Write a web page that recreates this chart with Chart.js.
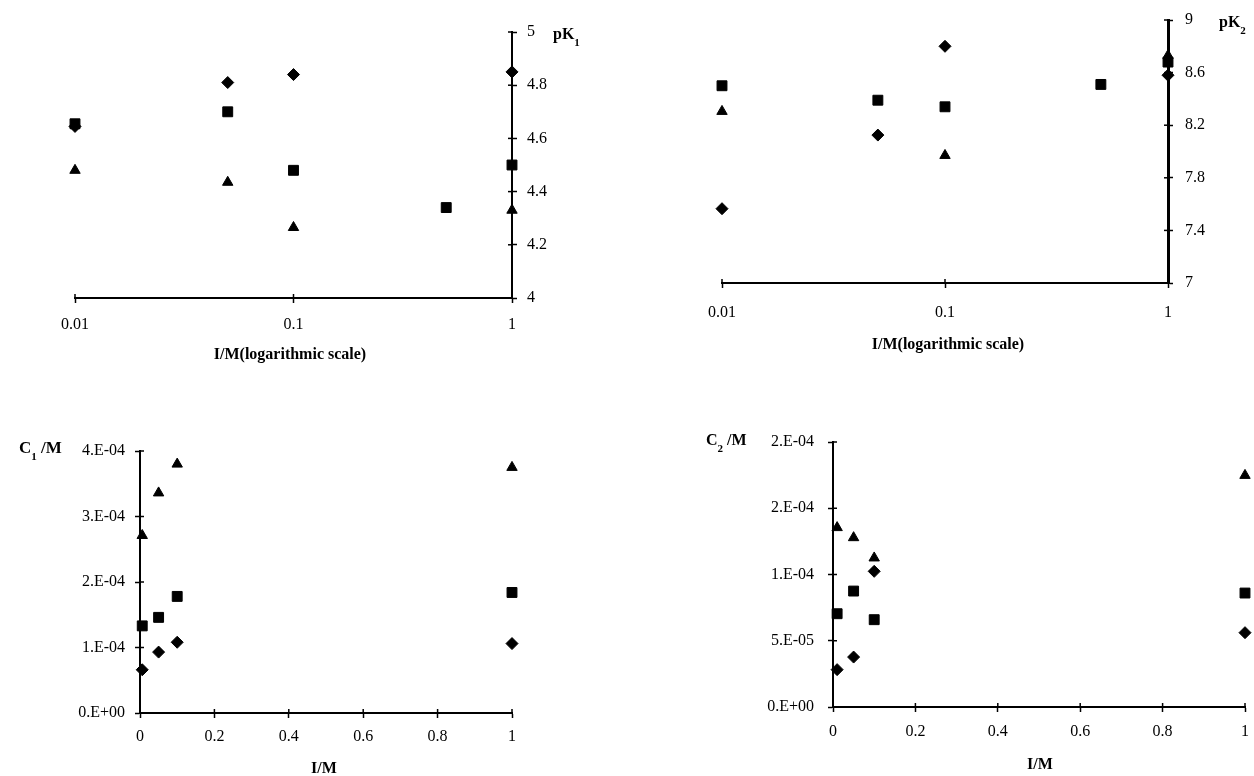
<!DOCTYPE html>
<html>
<head>
<meta charset="utf-8">
<script src="https://cdn.jsdelivr.net/npm/chart.js@4/dist/chart.umd.min.js"></script>
<style>
  body { margin: 0; background: #fff; width: 1254px; height: 776px; position: relative; overflow: hidden;
         font-family: 'Liberation Serif', 'Times New Roman', serif; color: #000; }
  .panel { position: absolute; width: 627px; height: 388px; }
  .title { position: absolute; font-weight: bold; font-size: 16px; line-height: 1; white-space: nowrap; }
  .title sub { font-size: 11px; vertical-align: -7px; }
  .center { transform: translateX(-50%); }
</style>
</head>
<body>
<div class="panel" style="left:0;top:0"><canvas id="pk1Chart"></canvas></div>
<div class="panel" style="left:627px;top:0"><canvas id="pk2Chart"></canvas></div>
<div class="panel" style="left:0;top:388px"><canvas id="c1Chart"></canvas></div>
<div class="panel" style="left:627px;top:388px"><canvas id="c2Chart"></canvas></div>

<div class="title" style="left:553px;top:26px">pK<sub>1</sub></div>
<div class="title" style="left:1219px;top:14px">pK<sub>2</sub></div>
<div class="title center" style="left:290px;top:346px">I/M(logarithmic scale)</div>
<div class="title center" style="left:948px;top:336px">I/M(logarithmic scale)</div>
<div class="title" style="left:19px;top:439px;font-size:17px">C<sub>1</sub>&nbsp;/M</div>
<div class="title" style="left:706px;top:432px">C<sub>2</sub>&nbsp;/M</div>
<div class="title center" style="left:324px;top:760px">I/M</div>
<div class="title center" style="left:1040px;top:756px">I/M</div>

<script>
// ionic strength values (I/M)
const strengthLog = [0.01, 0.05, 0.1, 0.5, 1];
const strengthC1 = [0.006, 0.05, 0.1, 1];
const strengthC2 = [0.01, 0.05, 0.1, 1];

// pK1 (null = no point)
const pk1Diamond = [4.645, 4.81, 4.84, null, 4.85];
const pk1Square = [4.655, 4.70, 4.48, 4.34, 4.50];
const pk1Triangle = [4.48, 4.435, 4.265, null, 4.33];

// pK2
const pk2Diamond = [7.565, 8.125, 8.80, null, 8.58];
const pk2Square = [8.50, 8.39, 8.34, 8.51, 8.68];
const pk2Triangle = [8.305, null, 7.97, null, 8.73];

// C1/M
const c1Diamond = [6.6e-5, 9.3e-5, 1.08e-4, 1.06e-4];
const c1Square = [1.33e-4, 1.46e-4, 1.78e-4, 1.84e-4];
const c1Triangle = [2.71e-4, 3.36e-4, 3.80e-4, 3.75e-4];

// C2/M
const c2Diamond = [2.82e-5, 3.77e-5, 1.024e-4, 5.61e-5];
const c2Square = [7.04e-5, 8.75e-5, 6.59e-5, 8.6e-5];
const c2Triangle = [1.354e-4, 1.278e-4, 1.125e-4, 1.748e-4];

// tick values and labels
const logTicks = [0.01, 0.1, 1];
const logTickLabels = ['0.01', '0.1', '1'];
const linTicks = [0, 0.2, 0.4, 0.6, 0.8, 1];
const linTickLabels = ['0', '0.2', '0.4', '0.6', '0.8', '1'];
const pk1Ticks = [4, 4.2, 4.4, 4.6, 4.8, 5];
const pk1TickLabels = ['4', '4.2', '4.4', '4.6', '4.8', '5'];
const pk2Ticks = [7, 7.4, 7.8, 8.2, 8.6, 9];
const pk2TickLabels = ['7', '7.4', '7.8', '8.2', '8.6', '9'];
const c1Ticks = [0, 1e-4, 2e-4, 3e-4, 4e-4];
const c1TickLabels = ['0.E+00', '1.E-04', '2.E-04', '3.E-04', '4.E-04'];
const c2Ticks = [0, 5e-5, 1e-4, 1.5e-4, 2e-4];
const c2TickLabels = ['0.E+00', '5.E-05', '1.E-04', '2.E-04', '2.E-04'];

Chart.defaults.font.family = "'Liberation Serif', 'Times New Roman', serif";
Chart.defaults.color = '#000';

// short tick marks on the inner side of each axis, so they cross the line
const crossTicks = {
    id: 'crossTicks',
    beforeDatasetsDraw(chart) {
        const { ctx, chartArea } = chart;
        ctx.save();
        ctx.strokeStyle = '#000';
        ctx.lineWidth = 1.5;
        Object.values(chart.scales).forEach(scale => {
            scale.ticks.forEach(t => {
                const p = scale.getPixelForValue(t.value);
                ctx.beginPath();
                if (scale.isHorizontal()) {
                    ctx.moveTo(p, chartArea.bottom);
                    ctx.lineTo(p, chartArea.bottom - 4);
                } else if (scale.position === 'right') {
                    ctx.moveTo(chartArea.right, p);
                    ctx.lineTo(chartArea.right - 4, p);
                } else {
                    ctx.moveTo(chartArea.left, p);
                    ctx.lineTo(chartArea.left + 4, p);
                }
                ctx.stroke();
            });
        });
        ctx.restore();
    }
};

function points(xs, ys) {
    return xs.map((x, i) => ({ x: x, y: ys[i] })).filter(p => p.y !== null);
}

function series(data, style, radius, order) {
    return {
        data: data,
        pointStyle: style,
        pointRadius: radius,
        backgroundColor: '#000',
        borderColor: '#000',
        borderWidth: 1,
        showLine: false,
        clip: false,
        order: order
    };
}

function axis(opts) {
    return {
        type: opts.type || 'linear',
        position: opts.position,
        min: opts.min,
        max: opts.max,
        afterBuildTicks: s => { s.ticks = opts.ticks.map(v => ({ value: v })); },
        afterFit: s => {
            if (opts.position === 'bottom') s.height = opts.size;
            else s.width = opts.size;
            // the layout padding already leaves room for edge labels
            s.paddingLeft = s.paddingRight = s.paddingTop = s.paddingBottom = 0;
        },
        ticks: {
            autoSkip: false,
            maxRotation: 0,
            padding: opts.padding,
            font: { size: 16 },
            callback: (v, i) => opts.labels[i]
        },
        grid: { drawOnChartArea: false, drawTicks: true, tickLength: 5, tickWidth: 1.5, tickColor: '#000' },
        border: { display: true, color: '#000', width: opts.borderWidth || 2 }
    };
}

function makePanel(id, xs, diamond, square, triangle, layoutPadding, xAxis, yAxis) {
    new Chart(document.getElementById(id), {
        type: 'scatter',
        data: {
            datasets: [
                series(points(xs, diamond), 'rectRot', 6, 3),
                series(points(xs, square), 'rect', 7, 2),
                series(points(xs, triangle), 'triangle', 6, 1)
            ]
        },
        options: {
            responsive: true,
            maintainAspectRatio: false,
            animation: false,
            layout: { padding: layoutPadding },
            plugins: { legend: { display: false }, tooltip: { enabled: false } },
            scales: { x: xAxis, y: yAxis }
        },
        plugins: [crossTicks]
    });
}

makePanel('pk1Chart', strengthLog, pk1Diamond, pk1Square, pk1Triangle,
    { left: 75, top: 32, right: 0, bottom: 0 },
    axis({ type: 'logarithmic', position: 'bottom', min: 0.01, max: 1, ticks: logTicks, labels: logTickLabels, size: 90, padding: 12 }),
    axis({ position: 'right', min: 4, max: 5, ticks: pk1Ticks, labels: pk1TickLabels, size: 115, padding: 10 }));

makePanel('pk2Chart', strengthLog, pk2Diamond, pk2Square, pk2Triangle,
    { left: 95, top: 20, right: 0, bottom: 0 },
    axis({ type: 'logarithmic', position: 'bottom', min: 0.01, max: 1, ticks: logTicks, labels: logTickLabels, size: 105, padding: 15 }),
    axis({ position: 'right', min: 7, max: 9, ticks: pk2Ticks, labels: pk2TickLabels, size: 86, padding: 12, borderWidth: 3 }));

makePanel('c1Chart', strengthC1, c1Diamond, c1Square, c1Triangle,
    { left: 0, top: 63, right: 115, bottom: 0 },
    axis({ position: 'bottom', min: 0, max: 1, ticks: linTicks, labels: linTickLabels, size: 63, padding: 9 }),
    axis({ position: 'left', min: 0, max: 4e-4, ticks: c1Ticks, labels: c1TickLabels, size: 140, padding: 10 }));

makePanel('c2Chart', strengthC2, c2Diamond, c2Square, c2Triangle,
    { left: 0, top: 54, right: 9, bottom: 0 },
    axis({ position: 'bottom', min: 0, max: 1, ticks: linTicks, labels: linTickLabels, size: 69, padding: 10 }),
    axis({ position: 'left', min: 0, max: 2e-4, ticks: c2Ticks, labels: c2TickLabels, size: 206, padding: 14 }));
</script>
</body>
</html>
